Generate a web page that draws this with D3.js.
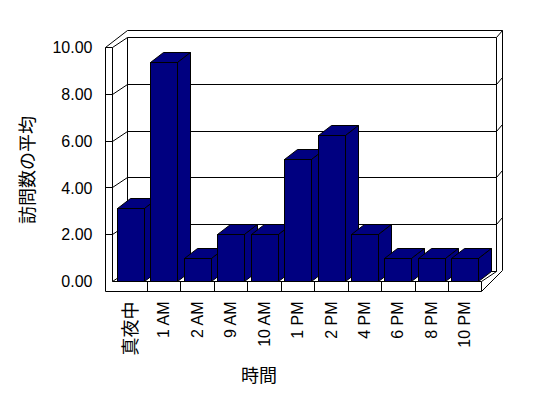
<!DOCTYPE html>
<html>
<head>
<meta charset="utf-8">
<script src="https://cdn.jsdelivr.net/npm/d3@7"></script>
<style>
  body { margin: 0; background: #fff; }
</style>
</head>
<body>
<div id="chart"></div>
<script>
// data
var categories = ['真夜中', '1 AM', '2 AM', '9 AM', '10 AM', '1 PM', '2 PM', '4 PM', '6 PM', '8 PM', '10 PM'];
var visits     = [3.11, 9.36, 1.00, 2.00, 2.00, 5.22, 6.25, 2.00, 1.00, 1.00, 1.00];
var yTicks     = [0, 2, 4, 6, 8, 10];
var yTitle     = '訪問数の平均';
var xTitle     = '時間';

var chart_width  = 548;
var chart_height = 398;
var font = '"Liberation Sans", Arial, "Noto Sans CJK JP", sans-serif';

// frame geometry (oblique 3d box)
var wallL  = 105.5;   // left wall, outer face
var plotL  = 112.5;   // left wall, inner face
var plotR  = 481.5;
var floorB = 291.5;
var dx = 15, dy = -10;        // depth of the box
var barDx = 13, barDy = -10;  // depth of each bar
var thick = 6;                // back wall thickness

var svg = d3.select('#chart')
    .append('svg')
    .attr('width', chart_width)
    .attr('height', chart_height)
    .style('background', '#fff');

// scales
var y_scale = d3.scaleLinear()
    .domain([0, 10])
    .range([281, 47]);
var py = v => Math.round(y_scale(v)) + 0.5;

var x_scale = d3.scaleBand()
    .domain(categories)
    .range([113.5, plotR])
    .paddingInner(0.2)
    .paddingOuter(0.1);

var backL = plotL + dx, backR = plotR + dx;
var backTop = py(10) + dy, backBot = py(0) + dy;
var outerR = backR + thick, outerTop = backTop - 7;

var frame = svg.append('g')
    .attr('stroke', '#000')
    .attr('stroke-width', 1)
    .attr('fill', 'none');

function line(x1, y1, x2, y2) {
    frame.append('line')
        .attr('x1', x1).attr('y1', y1)
        .attr('x2', x2).attr('y2', y2);
}

// back wall
line(backL, backTop, backR, backTop);
line(backL, outerTop, outerR, outerTop);
line(backL, backTop, backL, backBot);
line(backR, backTop, backR, backBot);
line(outerR, outerTop, outerR, floorB - 21);
line(backR, backTop, outerR, outerTop);

// gridlines over left wall and back wall
yTicks.filter(v => v > 0 && v < 10).forEach(v => {
    var yf = py(v), yb = py(v) + dy;
    line(wallL, yf, plotL, yf);
    line(plotL, yf, backL, yb);
    line(backL, yb, backR, yb);
    line(backR, yb, outerR, yb - 7);
});

// left wall
line(wallL, py(10), wallL, floorB);
line(plotL, py(10), plotL, py(0));
line(wallL, py(10), plotL, py(10));
line(plotL, py(10), backL, backTop);
line(wallL, py(10), backL, outerTop);

// floor
line(backL, backBot, backR, backBot);
line(plotL, py(0), backL, backBot);
line(plotL, py(0), plotR, py(0));
line(plotR, py(0), backR, backBot);
line(plotR, floorB, outerR, floorB - 21);

// bars
var bars = svg.append('g')
    .attr('fill', '#000080')
    .attr('stroke', '#000')
    .attr('stroke-width', 1)
    .attr('stroke-linejoin', 'miter');

categories.forEach((c, i) => {
    var x0 = Math.round(x_scale(c)) + 0.5;
    var x1 = x0 + Math.round(x_scale.bandwidth());
    var yt = py(visits[i]);
    var yb = py(0);
    var g = bars.append('g');
    g.append('polygon')
        .attr('points', [[x0, yt], [x1, yt], [x1 + barDx, yt + barDy], [x0 + barDx, yt + barDy]].join(' '));
    g.append('polygon')
        .attr('points', [[x1, yt], [x1 + barDx, yt + barDy], [x1 + barDx, yb + barDy], [x1, yb]].join(' '));
    g.append('rect')
        .attr('x', x0)
        .attr('y', yt)
        .attr('width', x1 - x0)
        .attr('height', yb - yt);
});

// floor front face with category dividers
var front = svg.append('g')
    .attr('stroke', '#000')
    .attr('fill', 'none');
front.append('line').attr('x1', wallL).attr('y1', floorB).attr('x2', plotR).attr('y2', floorB);
front.append('line').attr('x1', plotR).attr('y1', py(0)).attr('x2', plotR).attr('y2', floorB);
front.selectAll('.divider')
    .data(categories.slice(1))
    .enter()
    .append('line')
    .attr('class', 'divider')
    .attr('x1', d => Math.round(x_scale(d) - x_scale.step() * 0.1) + 0.5)
    .attr('x2', d => Math.round(x_scale(d) - x_scale.step() * 0.1) + 0.5)
    .attr('y1', py(0))
    .attr('y2', floorB);

// axes
var y_axis = d3.axisLeft(y_scale)
    .tickValues(yTicks)
    .tickFormat(d3.format('.2f'))
    .tickSize(0)
    .tickPadding(13);

svg.append('g')
    .attr('class', 'y-axis')
    .attr('transform', `translate(${wallL}, 0.5)`)
    .call(y_axis)
    .call(g => g.select('.domain').remove())
    .selectAll('text')
    .attr('fill', '#000')
    .attr('font-family', font)
    .attr('font-size', 16);

var x_axis = d3.axisBottom(x_scale)
    .tickSize(0);

svg.append('g')
    .attr('class', 'x-axis')
    .attr('transform', `translate(0, ${floorB})`)
    .call(x_axis)
    .call(g => g.select('.domain').remove())
    .selectAll('text')
    .attr('fill', '#000')
    .attr('font-family', font)
    .attr('font-size', d => /[^\x00-\x7f]/.test(d) ? 18 : 16)
    .attr('transform', 'rotate(-90)')
    .attr('x', -10)
    .attr('y', 0)
    .attr('dy', '0.35em')
    .attr('text-anchor', 'end');

// titles
svg.append('text')
    .attr('transform', 'translate(28, 170) rotate(-90)')
    .attr('text-anchor', 'middle')
    .attr('dy', '0.35em')
    .attr('font-family', font)
    .attr('font-size', 18)
    .text(yTitle);

svg.append('text')
    .attr('x', 259)
    .attr('y', 376)
    .attr('text-anchor', 'middle')
    .attr('dy', '0.35em')
    .attr('font-family', font)
    .attr('font-size', 18)
    .text(xTitle);
</script>
</body>
</html>
